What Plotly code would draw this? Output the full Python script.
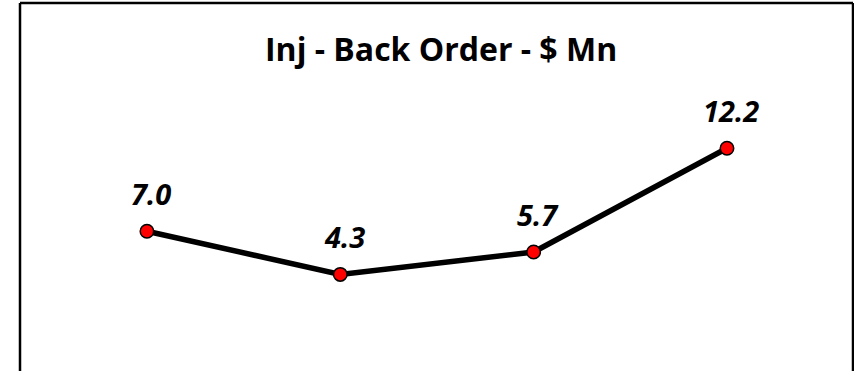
import plotly.graph_objects as go

categories = ["P1", "P2", "P3", "P4"]
values = [7.0, 4.3, 5.7, 12.2]
labels = ["7.0", "4.3", "5.7", "12.2"]
title_text = "Inj - Back Order - $ Mn"

W, H = 854, 371
xs = list(range(len(categories)))

fig = go.Figure()
fig.add_trace(go.Scatter(
    x=xs, y=values, mode="lines+markers",
    line=dict(color="black", width=5.5),
    marker=dict(size=13.5, color="#ff0000", line=dict(color="black", width=1.5)),
    hoverinfo="skip", showlegend=False,
))

for xi, v, t in zip(xs, values, labels):
    fig.add_annotation(x=xi, y=v, text=t, showarrow=False,
                       xanchor="center", yanchor="middle", xshift=4, yshift=38,
                       font=dict(family="Open Sans", size=29, color="black",
                                 weight="bold", style="italic"))

fig.add_annotation(xref="paper", yref="paper", x=441 / W, y=1 - 48 / H,
                   text=title_text, showarrow=False, xanchor="center", yanchor="middle",
                   font=dict(family="Open Sans", size=32, color="black", weight="bold"))

def px_x(p):
    return p / W

def px_y(p):
    return 1 - p / H

border = dict(color="black", width=2.5)
fig.add_shape(type="line", xref="paper", yref="paper", x0=px_x(20), x1=px_x(20), y0=px_y(3), y1=px_y(380), line=border)
fig.add_shape(type="line", xref="paper", yref="paper", x0=px_x(20), x1=px_x(853), y0=px_y(3), y1=px_y(3), line=border)
fig.add_shape(type="line", xref="paper", yref="paper", x0=px_x(853), x1=px_x(853), y0=px_y(3), y1=px_y(380), line=border)

fig.update_layout(
    width=W, height=H,
    margin=dict(l=0, r=0, t=0, b=0),
    paper_bgcolor="white", plot_bgcolor="white",
    xaxis=dict(range=[-0.760, 3.657], visible=False, fixedrange=True),
    yaxis=dict(range=[-1.75, 21.48], visible=False, fixedrange=True),
)

fig.write_html("out.html")
